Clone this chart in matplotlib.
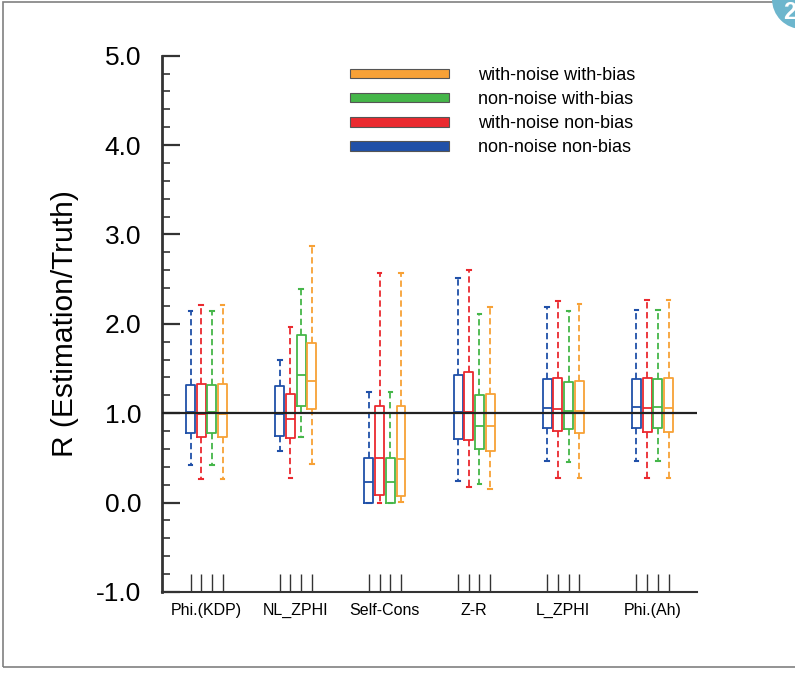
import numpy as np
import matplotlib
matplotlib.use("Agg")
import matplotlib.pyplot as plt
from matplotlib.patches import Patch, Rectangle, Circle
from matplotlib.ticker import MultipleLocator, FormatStrFormatter

plt.rcParams['font.family'] = ['Liberation Sans', 'DejaVu Sans']
plt.rcParams['axes.unicode_minus'] = False

# Retrieval methods on the x axis
categories = ["Phi.(KDP)", "NL_ZPHI", "Self-Cons", "Z-R", "L_ZPHI", "Phi.(Ah)"]

# Experiments (drawn left to right inside each group)
series_labels = ["non-noise non-bias", "with-noise non-bias",
                 "non-noise with-bias", "with-noise with-bias"]
series_colors = ["#2050a8", "#ea2a2f", "#45b649", "#f7a136"]

# Box statistics per experiment, rows: whisker low, q1, median, q3, whisker high
non_noise_non_bias = np.array([
    [0.42, 0.58, 0.00, 0.24, 0.47, 0.47],
    [0.78, 0.75, 0.00, 0.71, 0.83, 0.84],
    [1.01, 0.99, 0.23, 1.01, 1.06, 1.07],
    [1.32, 1.30, 0.50, 1.43, 1.38, 1.38],
    [2.14, 1.59, 1.24, 2.51, 2.19, 2.16],
])
with_noise_non_bias = np.array([
    [0.26, 0.27, 0.00, 0.17, 0.28, 0.28],
    [0.73, 0.72, 0.08, 0.70, 0.80, 0.79],
    [0.99, 0.93, 0.50, 1.01, 1.05, 1.06],
    [1.33, 1.21, 1.08, 1.46, 1.39, 1.39],
    [2.21, 1.97, 2.57, 2.60, 2.26, 2.27],
])
non_noise_with_bias = np.array([
    [0.42, 0.73, 0.00, 0.21, 0.45, 0.47],
    [0.78, 1.08, 0.00, 0.60, 0.82, 0.84],
    [1.01, 1.43, 0.23, 0.86, 1.02, 1.07],
    [1.32, 1.88, 0.50, 1.20, 1.35, 1.38],
    [2.14, 2.39, 1.24, 2.11, 2.14, 2.16],
])
with_noise_with_bias = np.array([
    [0.26, 0.43, 0.01, 0.15, 0.28, 0.28],
    [0.73, 1.05, 0.07, 0.58, 0.78, 0.79],
    [0.99, 1.36, 0.49, 0.86, 1.03, 1.06],
    [1.33, 1.78, 1.08, 1.22, 1.36, 1.39],
    [2.21, 2.87, 2.57, 2.19, 2.22, 2.27],
])
all_series = [non_noise_non_bias, with_noise_non_bias,
              non_noise_with_bias, with_noise_with_bias]

offsets = [-0.18, -0.06, 0.06, 0.18]
box_width = 0.1
axis_col = "#333333"

fig = plt.figure(figsize=(7.95, 6.75), dpi=100)
ax = fig.add_axes([0.2038, 0.1230, 0.6730, 0.7945])

group_pos = np.arange(1, len(categories) + 1)
all_pos = []
for data, off, col in zip(all_series, offsets, series_colors):
    stats = []
    for j in range(len(categories)):
        lo, q1, med, q3, hi = data[:, j]
        stats.append({"whislo": lo, "q1": q1, "med": med, "q3": q3, "whishi": hi, "fliers": []})
    pos = group_pos + off
    all_pos.extend(pos)
    ax.bxp(stats, positions=pos, widths=box_width, capwidths=0.04,
           manage_ticks=False, showfliers=False,
           boxprops=dict(color=col, lw=1.3),
           medianprops=dict(color=col, lw=1.3),
           whiskerprops=dict(color=col, lw=1.3, linestyle=(0, (3.5, 2))),
           capprops=dict(color=col, lw=1.5))

ax.axhline(1.0, color="#222222", lw=1.6, zorder=5)

ax.set_xlim(0.5, 6.5)
ax.set_ylim(-1.0, 5.0)

for s in ["top", "right"]:
    ax.spines[s].set_visible(False)
ax.spines["left"].set_linewidth(2.0)
ax.spines["bottom"].set_linewidth(1.5)
ax.spines["left"].set_color(axis_col)
ax.spines["bottom"].set_color(axis_col)

ax.yaxis.set_major_locator(MultipleLocator(1.0))
ax.yaxis.set_minor_locator(MultipleLocator(0.2))
ax.yaxis.set_major_formatter(FormatStrFormatter("%.1f"))
ax.tick_params(axis="y", which="major", direction="in", length=13, width=1.6,
               color=axis_col, labelsize=19, pad=15)
ax.tick_params(axis="y", which="minor", direction="in", length=6, width=1.2, color=axis_col)

ax.set_xticks(group_pos)
ax.set_xticklabels(categories)
ax.set_xticks(sorted(all_pos), minor=True)
ax.tick_params(axis="x", which="major", length=0, labelsize=11.5, pad=8)
ax.tick_params(axis="x", which="minor", direction="in", length=13, width=1.0, color=axis_col)

ax.set_ylabel("R (Estimation/Truth)", fontsize=21.5, labelpad=12)

handles = [Patch(facecolor=c, edgecolor="#555555", lw=0.8, label=l)
           for c, l in zip(series_colors[::-1], series_labels[::-1])]
ax.legend(handles=handles, loc="upper left", bbox_to_anchor=(0.4403, 0.9007),
          bbox_transform=fig.transFigure, frameon=False, fontsize=13,
          handlelength=5.5, handleheight=0.45, handletextpad=1.6,
          labelspacing=0.39, borderpad=0, borderaxespad=0)

# page frame and corner badge
fig.add_artist(Rectangle((3 / 795, 1 - 667 / 675), 1.1, (667 - 2) / 675,
                         transform=fig.transFigure, fill=False, ec="#808080", lw=1.2))
fig.add_artist(Circle((8.02, 6.76), 0.30, transform=fig.dpi_scale_trans,
                      fc="#6db6cd", ec="none"))
fig.text(0.985, 0.981, "2", color="white", fontsize=17, fontweight="bold",
         ha="left", va="center")

fig.savefig("out.png", dpi=100)
